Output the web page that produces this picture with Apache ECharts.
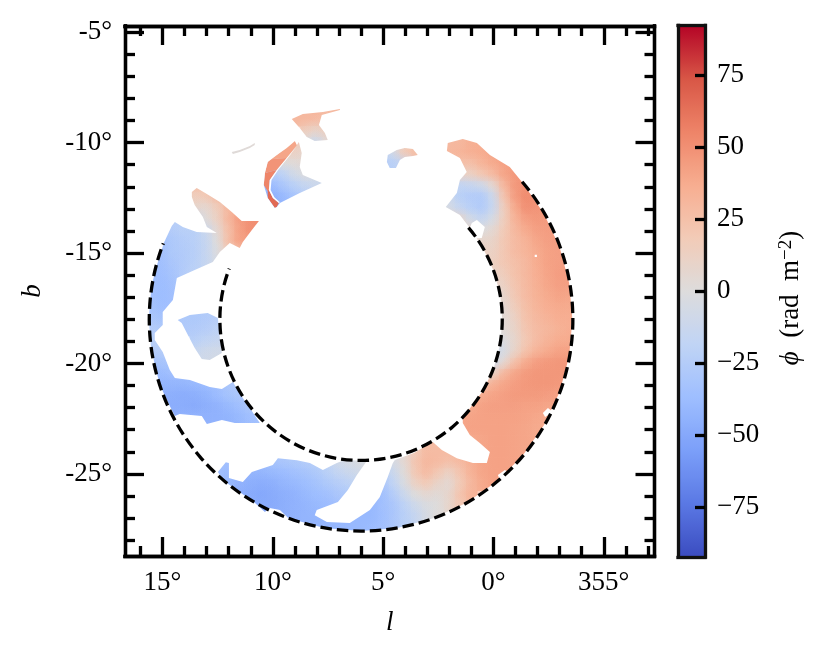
<!DOCTYPE html>
<html><head><meta charset="utf-8">
<script src="https://cdn.jsdelivr.net/npm/echarts@6/dist/echarts.min.js"></script>
<style>html,body{margin:0;padding:0;background:#fff}#c{width:831px;height:659px}</style>
</head><body><div id="c"></div>
<script>
// Rows of cells: [b, first l, value at l, value at l-0.5, ...]
const rightArc = [
[-10,2,30,30,35,37,38],
[-10.5,2,30,32,35,37,40,42],
[-11,2,25,25,25,32,38,42,45],
[-11.5,2,10,10,12,20,28,40,46,48],
[-12,2.5,-10,-10,-18,-15,-10,5,30,46,50,48],
[-12.5,2.5,-10,-10,-22,-25,-26,-12,22,44,52,50,48],
[-13,2.5,-5,-5,-15,-22,-26,-14,15,38,50,48,45],
[-13.5,2.5,8,8,8,-8,-15,-5,15,33,43,46,45,44],
[-14,1.5,8,8,0,5,18,30,38,43,44,43],
[-14.5,.5,8,10,20,28,33,40,43,44],
[-15,.5,12,12,20,28,32,38,42,43,43],
[-15.5,.5,12,14,20,25,30,37,42,43,44],
[-16,.5,10,10,16,24,30,36,41,44,44],
[-16.5,.5,6,6,12,22,29,35,40,43,43],
[-17,.5,4,4,8,20,28,34,38,41,40],
[-17.5,0,3,5,16,26,32,36,38,38],
[-18,0,2,3,12,24,30,33,36,36],
[-18.5,0,0,3,10,22,28,31,34,36],
[-19,0,-4,-2,8,20,28,33,37,38],
[-19.5,.5,-10,-10,-5,10,24,33,38,42,42],
[-20,.5,-10,-10,5,25,38,44,46,47,47],
[-20.5,.5,-5,10,30,40,45,47,47,47,46],
[-21,1,15,20,35,40,44,46,47,47,46],
[-21.5,1,30,38,41,43,45,45,45,44,42],
[-22,1.5,35,38,42,43,43,43,42,42,40],
[-22.5,1.5,40,41,42,42,42,42,41,39,38],
[-23,1.5,40,42,42,42,42,41,40,38],
[-23.5,3,25,28,30,35,38,40,42,42,41,40,39],
[-24,4,5,18,28,28,28,32,36,40,42,42,41,40],
[-24.5,4.5,-5,5,22,30,28,25,28,35,40,42,42,41],
[-25,5,-25,-12,2,20,28,20,12,22,33,40,42,42],
[-25.5,5,-30,-18,-3,12,18,10,5,18,30,38,42],
[-26,5.5,-40,-35,-25,-12,0,5,3,8,22,33],
[-26.5,6,-40,-40,-35,-30,-20,-10,-3,0,8,20],
[-27,7,-42,-40,-40,-40,-36,-30,-22,-15,-5,2],
[-27.5,7,-40,-40,-40,-38,-35,-30,-22]
];
const bottomBand = [
[-24.5,12.5,-35,-35,-35,-35,-35,-32,-30,-28,-25,-22,-18,-8,-5,-3,-3],
[-25,12.5,-35,-38,-40,-42,-42,-40,-38,-35,-32,-28,-22,-16,-12,-8],
[-25.5,12,-40,-44,-46,-47,-46,-42,-40,-37,-33,-28,-24,-20,-15],
[-26,11.5,-46,-48,-50,-48,-46,-44,-40,-37,-35,-30,-28],
[-26.5,11,-47,-48,-48,-46,-44,-42,-40,-38,-35],
[-27,10,-46,-45,-44,-42,-42,-40],
[-27.5,9,-42,-42,-42,-42]
];
const leftArc = [
[-12,13.5,25,25],
[-12.5,14,20,15,18,28],
[-13,13.5,8,6,16,30,35],
[-13.5,14.5,-22,-20,-15,2,12,30,44,50,52],
[-14,15,-28,-25,-22,-22,-12,5,25,42,50,50],
[-14.5,15,-33,-28,-25,-22,-15,0,25,42,44],
[-15,15.5,-36,-34,-28,-26,-23,-15,-2,15,22],
[-15.5,15.5,-36,-35,-30,-26,-22,-15,-5],
[-16,15.5,-36,-36,-32,-25,-20],
[-16.5,15.5,-35,-37,-34,-28],
[-17,15.5,-35,-37,-35],
[-17.5,16,-33,-33,-36,-35],
[-18,16,-30,-30,-32],
[-18.5,15.5,-25,-27],
[-19,15.5,-22,-22],
[-19.5,15.5,-25,-25,-25],
[-20,15.5,-32,-32,-30],
[-20.5,15.5,-38,-38,-35,-33,-33],
[-21,15,-42,-42,-42,-40,-38,-35,-30,-26],
[-21.5,15,-45,-46,-47,-46,-43,-38,-33,-30,-28],
[-22,14.5,-47,-47,-48,-46,-44,-40,-36,-30,-30],
[-22.5,14.5,-45,-44,-44,-44,-44,-43,-40,-36,-33],
[-23,13,-44,-44,-43,-40,-36,-34]
];
const island = [
[-17.5,14,-28,-28,-26,-22],
[-18,14.5,-30,-28,-28,-26,-24,-22],
[-18.5,14,-27,-26,-24,-20,-18],
[-19,13.5,-22,-18,-15,-12],
[-19.5,13.5,-14,-10,-8,-8],
[-20,13.5,-10,-8,-7,-7]
];
const upperBits = [
[-8.5,9,30,30,32,30,30],
[-9,9,30,30,28,25],
[-9.5,8.5,15,10,15],
[-10,8.5,0,-10,5],
[-10,11,3,3],
[-10.5,12,2,2,2],
[-10,9.5,25,20],
[-10.5,9.5,15,12,8],
[-11,10,-5,0,2,5],
[-11.5,10,-25,-20,-8,-2,-5],
[-12,10.5,-40,-38,-30,-22,-15,-12,-12],
[-12.5,10.5,-42,-45,-40,-32,-25],
[-13,10,-45,-42,-38],
[-10,4.5,5,15,25],
[-10.5,5,-18,-8,18,25],
[-11,5,-24,-22,-15]
];
// Solid-value patches for the narrow red sliver
const patchValues = [40,48,55,66];
const patchShapes = [
[[9,-9.93],[9.37,-10.24],[9.82,-10.56],[10.1,-10.75],[9.37,-10.7],[8.91,-10.11]],
[[10.1,-10.75],[10.23,-10.88],[10.36,-11.38],[9.82,-11.24],[9.37,-10.7]],
[[10.36,-11.38],[10.41,-11.92],[10.23,-12.2],[10.17,-12.2],[10.14,-11.69],[9.82,-11.24]],
[[10.23,-12.2],[10.23,-12.51],[9.91,-12.96],[9.82,-12.92],[9.73,-12.74],[10,-12.51],[10.18,-12.15]]
];
// Outlines of the regions that hold data, in (l, b)
const outlineTail = [[6.96,-8.48],[7.73,-8.61],[8.64,-8.7],[9.14,-8.93],[8.78,-9.34],[8.46,-9.75],[8.1,-9.93],[7.51,-9.88],[7.64,-9.57],[7.91,-9.2],[7.78,-8.75],[6.96,-8.52]];
const outlineStreak = [[11.86,-10.43],[11.5,-10.34],[11.04,-10.15],[10.82,-10.02],[10.82,-10.11],[11.04,-10.24],[11.5,-10.43],[11.81,-10.52]];
const outlineSliver = [[9.91,-12.96],[10.23,-12.51],[10.41,-11.92],[10.36,-11.38],[10.23,-10.88],[9.82,-10.56],[9.37,-10.24],[9,-9.93],[8.91,-10.11],[8.82,-9.97],[8.69,-10.47],[8.78,-11.1],[8.64,-11.47],[7.78,-11.83],[8.78,-12.28],[9.68,-12.74],[9.82,-12.92]];
const outlineLeft = [[14.44,-13.6],[14.58,-13.78],[14.94,-14.55],[15.21,-15.41],[15.49,-16.45],[15.58,-17.36],[15.62,-18.03],[15.53,-19.17],[15.35,-20.07],[15.12,-20.98],[14.76,-21.75],[14.44,-22.38],[14.22,-22.29],[13.22,-22.38],[12.99,-22.74],[12.31,-22.56],[11.72,-22.7],[10.59,-22.7],[11.04,-22.02],[11.36,-21.57],[11.81,-20.84],[12.31,-21.16],[12.86,-21.07],[13.76,-20.75],[14.44,-20.66],[14.67,-20.3],[14.99,-19.48],[15.35,-18.94],[15.35,-18.62],[14.99,-18.26],[14.99,-17.67],[14.53,-17.13],[14.35,-16.13],[13.54,-15.77],[12.72,-15.41],[12.4,-14.95],[11.95,-14.55],[11.5,-14.77],[11.36,-14.5],[10.95,-13.96],[10.63,-13.55],[11.41,-13.55],[11.86,-13.14],[12.4,-12.69],[12.99,-12.33],[13.45,-12.06],[13.67,-12.24],[13.67,-12.46],[13.54,-12.83],[13.17,-13.37],[12.99,-13.82],[12.54,-14.09],[13.45,-14.05],[14.08,-13.82]];
const outlineIsland = [[14.31,-18.03],[13.76,-17.81],[12.95,-17.72],[12.49,-17.94],[12.4,-18.85],[12.31,-19.53],[12.86,-19.85],[13.22,-19.8],[13.54,-19.3],[13.85,-18.71],[14.13,-18.17]];
const outlineSmall = [[4.83,-10.88],[4.79,-10.56],[4.38,-10.34],[4.02,-10.24],[3.65,-10.29],[3.43,-10.56],[3.65,-10.61],[4.02,-10.65],[4.24,-10.79],[4.42,-11.15],[4.7,-11.15]];
const outlineMain = [[12.49,-24.92],[12.13,-24.47],[11.99,-24.51],[11.99,-25.19],[11.36,-25.37],[10.95,-24.92],[10,-24.6],[9.77,-24.29],[8.91,-24.38],[8.32,-24.51],[7.73,-24.83],[7.1,-24.51],[6.74,-24.37],[5.74,-24.42],[6.19,-25.05],[6.6,-25.73],[7.05,-26.28],[8.01,-26.64],[8.1,-26.87],[7.55,-27.18],[6.51,-27.23],[5.6,-26.64],[5.15,-26.05],[4.79,-25.14],[4.56,-24.51],[4.47,-24.37],[3.61,-24.06],[2.75,-23.56],[2.34,-23.92],[1.66,-24.29],[.93,-24.51],[.3,-24.51],[.16,-24.01],[.62,-23.6],[1.07,-23.24],[1.39,-22.7],[1.39,-22.47],[.46,-21.21],[-.02,-20.2],[-.31,-19.12],[-.4,-18.01],[-.31,-16.9],[-.02,-15.82],[.46,-14.81],[.76,-14.33],[.53,-14.32],[.39,-13.82],[.75,-13.51],[.98,-13.64],[1.07,-13.87],[1.52,-13.28],[2.16,-12.92],[1.66,-12.28],[1.52,-11.69],[1.21,-11.33],[1.52,-10.7],[2.11,-10.38],[2.07,-10.02],[1.39,-9.84],[.75,-10.02],[.16,-10.56],[-.74,-11.1],[-1.33,-11.83],[-2.29,-13.22],[-3,-14.74],[-3.43,-16.35],[-3.58,-18.01],[-3.43,-19.67],[-3,-21.29],[-2.29,-22.8],[-1.33,-24.17],[-.15,-25.35],[1.21,-26.31],[2.73,-27.01],[4.35,-27.45],[6.01,-27.59],[7.67,-27.45],[9.29,-27.01],[9.68,-26.64],[10.14,-26.55],[10.36,-26.73],[10.82,-26.31],[12.18,-25.35],[12.31,-25.19]];
const dataOutlines = [outlineTail,outlineStreak,outlineSliver,outlineLeft,outlineIsland,outlineSmall,outlineMain];
// Small empty spots inside the data regions
const gapShapes = [
[[8.91,-10.15],[9.37,-10.7],[9.82,-11.24],[10.14,-11.69],[10.18,-12.15],[10,-12.51],[9.73,-12.74],[9.68,-12.7],[9.93,-12.47],[10.1,-12.15],[10.06,-11.69],[9.76,-11.24],[9.32,-10.7]],
[[-1.87,-15.08],[-1.97,-15.08],[-1.97,-15.18],[-1.87,-15.18]],
[[-2.24,-22.25],[-2.47,-22.02],[-2.7,-22.2],[-2.34,-22.43]],
[[-.2,-25.05],[-.52,-24.83],[-.65,-24.92],[-.29,-25.28]]
];
// Dashed rings: centre (l, b), radius in degrees, arc span in canvas degrees
const ringCentre = [6,-18];
const ringRadii = [9.6,6.4];
const ringSpan = [-40.5,201];

const lRange = [-7.3,16.7];
const bRange = [-28.72,-4.72];
const cRange = [-92.3,92.3];
const lMajor = [15,10,5,0,-5];
const lMinor = [16,14,13,12,11,9,8,7,6,4,3,2,1,-1,-2,-3,-4,-6,-7];
const bMajor = [-5,-10,-15,-20,-25];
const bMinor = [-6,-7,-8,-9,-11,-12,-13,-14,-16,-17,-18,-19,-21,-22,-23,-24,-26,-27,-28];
const cTicks = [-75,-50,-25,0,25,50,75];
const coolwarm = ['#3b4cc0','#5a78e4','#7b9ff9','#9ebeff','#c0d4f5','#dddcdc','#f2cbb7','#f7ad90','#ee8468','#d85646','#b40426'];

const FONT = '"Liberation Serif"';
const INK = '#000';
const LW = 3.3;
const cells = [];
[rightArc,bottomBand,leftArc,island,upperBits].forEach(group => group.forEach(row => {
  for (let i = 2; i < row.length; i++) cells.push([row[1]-(i-2)*0.5, row[0], row[i]]);
}));

function polyPath(pts, wantPositive) {
  let area = 0;
  for (let i = 0; i < pts.length; i++) {
    const a = pts[i], b = pts[(i+1)%pts.length];
    area += a[0]*b[1]-b[0]*a[1];
  }
  const list = ((area > 0) === wantPositive) ? pts : pts.slice().reverse();
  return list.map((p,i) => (i ? 'L' : 'M') + p[0] + ' ' + p[1]).join(' ') + ' Z ';
}

function mainAxisX(position, values, length, labelled) {
  return {type:'value',gridIndex:0,position,inverse:true,min:lRange[0],max:lRange[1],z:10,
    axisLine:{onZero:false,lineStyle:{color:INK,width:LW,cap:'square'}},
    axisTick:{inside:true,length,customValues:values,lineStyle:{color:INK,width:LW}},
    splitLine:{show:false},
    axisLabel: labelled ? {show:true,customValues:values,margin:13,color:INK,fontFamily:FONT,fontSize:27,
       formatter:v => (v<0 ? 360+v : v)+'°'} : {show:false},
    name: labelled ? 'l' : '', nameLocation:'middle', nameGap:53,
    nameTextStyle:{fontFamily:FONT,fontSize:27,fontStyle:'italic',color:INK}};
}
function mainAxisY(position, values, length, labelled) {
  return {type:'value',gridIndex:0,position,min:bRange[0],max:bRange[1],z:10,
    axisLine:{onZero:false,lineStyle:{color:INK,width:LW,cap:'square'}},
    axisTick:{inside:true,length,customValues:values,lineStyle:{color:INK,width:LW}},
    splitLine:{show:false},
    axisLabel: labelled ? {show:true,customValues:values,margin:13,color:INK,fontFamily:FONT,fontSize:27,
       formatter:v => v+'°'} : {show:false},
    name: labelled ? 'b' : '', nameLocation:'middle', nameGap:79,
    nameTextStyle:{fontFamily:FONT,fontSize:27,fontStyle:'italic',color:INK}};
}
const barFrameX = p => ({type:'value',gridIndex:1,position:p,min:0,max:1,z:10,
  axisLine:{onZero:false,lineStyle:{color:'#111',width:LW,cap:'square'}},axisTick:{show:false},axisLabel:{show:false},splitLine:{show:false}});

const chart = echarts.init(document.getElementById('c'),null,{renderer:'canvas'});
chart.setOption({
  backgroundColor:'#fff',
  animation:false,
  tooltip:{show:false},
  grid:[
    {left:125,top:26,width:529.5,height:530},
    {left:678,top:25.5,width:27,height:531.5}
  ],
  xAxis:[
    mainAxisX('bottom',lMajor,19,true),
    mainAxisX('top',lMajor,19,false),
    mainAxisX('bottom',lMinor,10,false),
    mainAxisX('top',lMinor,10,false),
    barFrameX('bottom'),
    barFrameX('top')
  ],
  yAxis:[
    mainAxisY('left',bMajor,19,true),
    mainAxisY('right',bMajor,19,false),
    mainAxisY('left',bMinor,10,false),
    mainAxisY('right',bMinor,10,false),
    {type:'value',gridIndex:1,position:'left',min:cRange[0],max:cRange[1],z:10,
      axisLine:{onZero:false,lineStyle:{color:'#111',width:LW,cap:'square'}},axisTick:{show:false},axisLabel:{show:false},splitLine:{show:false}},
    {type:'value',gridIndex:1,position:'right',min:cRange[0],max:cRange[1],z:10,
      axisLine:{onZero:false,lineStyle:{color:'#111',width:LW,cap:'square'}},
      axisTick:{inside:true,length:10,customValues:cTicks,lineStyle:{color:INK,width:LW}},
      splitLine:{show:false},
      axisLabel:{show:true,customValues:cTicks,margin:12,color:INK,fontFamily:FONT,fontSize:27,
        formatter:v => String(v).replace('-','\u2212')},
      name:'{i|ϕ}  (rad  m{s|−2})\u00a0\u00a0',nameLocation:'middle',nameRotate:90,nameGap:72,
      nameTextStyle:{fontFamily:FONT,fontSize:27,color:INK,
        rich:{i:{fontFamily:FONT,fontStyle:'italic',fontSize:27,color:INK},
              s:{fontFamily:FONT,fontSize:19,color:INK,verticalAlign:'bottom',padding:[0,0,9,0]}}}}
  ],
  visualMap:{type:'continuous',min:cRange[0],max:cRange[1],dimension:2,seriesIndex:[0,1,2],
    inRange:{color:coolwarm},left:678,top:25.5,itemWidth:27,itemHeight:531.5,padding:0,
    calculable:false,hoverLink:false,showLabel:false,text:null,realtime:false,z:4},
  series:[
    {type:'custom',name:'cells',xAxisIndex:0,yAxisIndex:0,silent:true,z:2,
      data:cells,
      renderItem(params,api){
        const l=api.value(0),b=api.value(1);
        const p0=api.coord([l+0.25,b+0.25]),p1=api.coord([l-0.25,b-0.25]);
        return {type:'rect',shape:{x:p0[0],y:p0[1],width:p1[0]-p0[0]+0.6,height:p1[1]-p0[1]+0.6},
          style:{fill:api.visual('color')}};
      }},
    {type:'custom',name:'cell soft edges',xAxisIndex:0,yAxisIndex:0,silent:true,z:2,
      data:cells,
      renderItem(params,api){
        const c=api.coord([api.value(0),api.value(1)]);
        const r=api.size([0.62,0])[0];
        const col=api.visual('color');
        return {type:'circle',shape:{cx:c[0],cy:c[1],r},
          style:{fill:new echarts.graphic.RadialGradient(0.5,0.5,0.5,[
            {offset:0,color:echarts.color.modifyAlpha(col,0.75)},
            {offset:0.5,color:echarts.color.modifyAlpha(col,0.4)},
            {offset:1,color:echarts.color.modifyAlpha(col,0)}])}};
      }},
    {type:'custom',name:'patches',xAxisIndex:0,yAxisIndex:0,silent:true,z:3,
      data:patchValues.map((v,i)=>[i,0,v]),
      renderItem(params,api){
        const pts=patchShapes[api.value(0)].map(p=>api.coord(p));
        return {type:'polygon',shape:{points:pts},style:{fill:api.visual('color')}};
      }},
    {type:'custom',name:'empty',xAxisIndex:0,yAxisIndex:0,silent:true,z:4,
      data:[[0,0]],
      renderItem(params,api){
        const c=pts=>pts.map(p=>api.coord(p));
        const frame=c([[lRange[1],bRange[1]],[lRange[0],bRange[1]],[lRange[0],bRange[0]],[lRange[1],bRange[0]]]);
        let d=polyPath(frame,true);
        dataOutlines.forEach(o=>{d+=polyPath(c(o),false);});
        gapShapes.forEach(o=>{d+=polyPath(c(o),true);});
        return {type:'path',shape:{pathData:d},style:{fill:'#fff'}};
      }},
    {type:'custom',name:'rings',xAxisIndex:0,yAxisIndex:0,silent:true,z:5,
      data:ringRadii.map(r=>[r,0]),
      renderItem(params,api){
        const c=api.coord(ringCentre);
        const r=api.size([api.value(0),0])[0];
        return {type:'arc',shape:{cx:c[0],cy:c[1],r,startAngle:ringSpan[0]*Math.PI/180,endAngle:ringSpan[1]*Math.PI/180,clockwise:true},
          style:{fill:null,stroke:'#000',lineWidth:3.3,lineDash:[11.5,5]}};
      }}
  ]
});
</script></body></html>
